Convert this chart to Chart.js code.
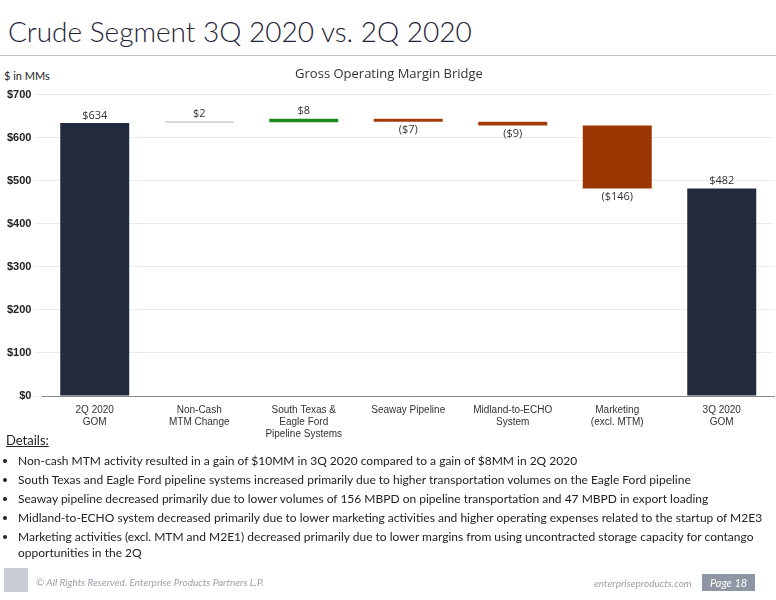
<!DOCTYPE html>
<html>
<head>
<meta charset="utf-8">
<script src="https://cdn.jsdelivr.net/npm/chart.js@4"></script>
<style>
  body { margin: 0; width: 776px; height: 600px; position: relative; font-family: Lato, "Open Sans", sans-serif; background: #fff; overflow: hidden; }
  #title { position: absolute; left: 8px; top: 14px; font-size: 28px; color: #1f2438; font-family: Lato, "Open Sans", sans-serif; font-weight: 300; }
  #rule { position: absolute; left: 0; top: 55px; width: 776px; height: 1px; background: #bfc4cc; }
  #unit { position: absolute; left: 4px; top: 69px; font-size: 11px; color: #222; }
  #chartBox { position: absolute; left: 0; top: 62px; width: 776px; height: 378px; }
  #details { position: absolute; left: 6px; top: 432px; width: 765px; font-size: 12px; color: #222; line-height: 1.35; }
  #details .hd { font-size: 13px; text-decoration: underline; margin-bottom: 3px; }
  #details ul { margin: 0; padding-left: 12px; }
  #details li { margin-bottom: 3px; }
  #footer { position: absolute; left: 0; top: 566px; width: 776px; height: 34px; }
  #logo { position: absolute; left: 4px; top: 2px; width: 24px; height: 24px; background: #c8ccd4; }
  #copy { position: absolute; left: 36px; top: 10px; font-size: 10px; color: #9aa0aa; font-style: italic; }
  #site { position: absolute; left: 594px; top: 11px; font-size: 10px; color: #9aa0aa; font-style: italic; }
  #page { position: absolute; left: 702px; top: 8px; font-size: 11px; color: #fff; background: #8f96a3; padding: 2px 8px; font-style: italic; }
</style>
</head>
<body>
<div id="title">Crude Segment 3Q 2020 vs. 2Q 2020</div>
<div id="rule"></div>
<div id="unit">$ in MMs</div>
<div id="chartBox"><canvas id="bridge"></canvas></div>
<div id="details">
  <div class="hd">Details:</div>
  <ul>
    <li>Non-cash MTM activity resulted in a gain of $10MM in 3Q 2020 compared to a gain of $8MM in 2Q 2020</li>
    <li>South Texas and Eagle Ford pipeline systems increased primarily due to higher transportation volumes on the Eagle Ford pipeline</li>
    <li>Seaway pipeline decreased primarily due to lower volumes of 156 MBPD on pipeline transportation and 47 MBPD in export loading</li>
    <li>Midland-to-ECHO system decreased primarily due to lower marketing activities and higher operating expenses related to the startup of M2E3</li>
    <li>Marketing activities (excl. MTM and M2E1) decreased primarily due to lower margins from using uncontracted storage capacity for contango opportunities in the 2Q</li>
  </ul>
</div>
<div id="footer">
  <div id="logo"></div>
  <div id="copy">© All Rights Reserved. Enterprise Products Partners L.P.</div>
  <div id="site">enterpriseproducts.com</div>
  <div id="page">Page 18</div>
</div>
<script>
// categories and values
const categories = [['2Q 2020', 'GOM'], ['Non-Cash', 'MTM Change'], ['South Texas &', 'Eagle Ford', 'Pipeline Systems'],
  ['Seaway Pipeline'], ['Midland-to-ECHO', 'System'], ['Marketing', '(excl. MTM)'], ['3Q 2020', 'GOM']];
const barStart = [0, 634, 636, 644, 637, 628, 0];
const barEnd = [634, 636, 644, 637, 628, 482, 482];
const valueLabels = ['$634', '$2', '$8', '($7)', '($9)', '($146)', '$482'];
const barColors = ['#222a3e', '#d9d9d9', '#1e8a1e', '#a33a0a', '#a33a0a', '#9c3500', '#222a3e'];
const yTicks = [0, 100, 200, 300, 400, 500, 600, 700];

// draws the $ labels above rising bars and below falling ones
const valueLabelPlugin = {
    id: 'valueLabels',
    afterDatasetsDraw(chart) {
        const ctx = chart.ctx;
        const meta = chart.getDatasetMeta(0);
        ctx.save();
        ctx.font = '11px "Open Sans", sans-serif';
        ctx.fillStyle = '#333';
        ctx.textAlign = 'center';
        meta.data.forEach((bar, i) => {
            const up = barEnd[i] >= barStart[i];
            const top = Math.min(bar.y, bar.base);
            const bottom = Math.max(bar.y, bar.base);
            if (up) {
                ctx.textBaseline = 'bottom';
                ctx.fillText(valueLabels[i], bar.x, top - 2);
            } else {
                ctx.textBaseline = 'top';
                ctx.fillText(valueLabels[i], bar.x, bottom + 3);
            }
        });
        ctx.restore();
    }
};

const ctx = document.getElementById('bridge').getContext('2d');
new Chart(ctx, {
    type: 'bar',
    data: {
        labels: categories,
        datasets: [{
            data: barStart.map((s, i) => [s, barEnd[i]]),
            backgroundColor: barColors,
            minBarLength: 2,
            categoryPercentage: 1,
            barPercentage: 0.66
        }]
    },
    options: {
        responsive: true,
        maintainAspectRatio: false,
        animation: false,
        layout: { padding: { left: 4, right: 2, top: 0 } },
        plugins: {
            legend: { display: false },
            tooltip: { enabled: false },
            title: {
                display: true,
                text: 'Gross Operating Margin Bridge',
                color: '#333',
                font: { size: 13, family: '"Open Sans", sans-serif', weight: 'normal' },
                padding: { top: 4, bottom: 13 }
            }
        },
        scales: {
            x: {
                grid: { display: false },
                border: { color: '#888' },
                ticks: { color: '#333', font: { size: 10 }, maxRotation: 0, padding: 0 }
            },
            y: {
                min: 0, max: 700,
                afterBuildTicks(axis) { axis.ticks = yTicks.map(v => ({ value: v })); },
                grid: { color: '#ececec' },
                border: { display: false },
                ticks: { color: '#222', font: { size: 11, weight: 'bold' }, callback: v => '$' + v }
            }
        }
    },
    plugins: [valueLabelPlugin]
});
</script>
</body>
</html>
